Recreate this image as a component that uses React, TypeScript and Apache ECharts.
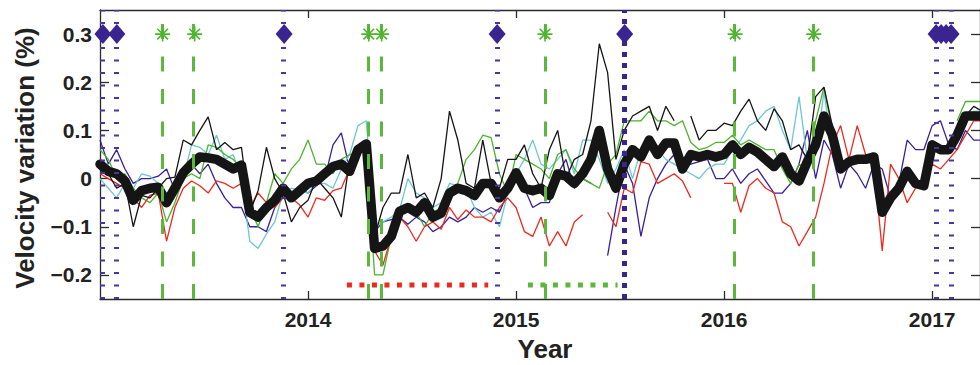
import React, { useEffect, useRef } from 'react';
import * as echarts from 'echarts';

// ---- data (velocity variation in %, sampled every 0.04 yr from 2013.00) ----
const SAMPLE_START = 2013.0;
const SAMPLE_STEP = 0.04;

const meanVelocity = [
  0.03, 0.015, 0.01, -0.005, -0.045, -0.025, -0.02, -0.018, -0.05, -0.02,
  0.012, 0.03, 0.045, 0.043, 0.04, 0.03, 0.02, 0.028, -0.07, -0.08,
  -0.06, -0.045, -0.02, -0.04, -0.025, -0.01, -0.005, 0.01, 0.025, 0.03,
  0.015, 0.06, 0.072, -0.145, -0.14, -0.12, -0.068, -0.06, -0.07, -0.05,
  -0.08, -0.072, -0.03, -0.02, -0.025, -0.035, -0.01, -0.01, -0.04, -0.02,
  0.012, -0.02, -0.025, -0.02, -0.035, 0.01, 0.005, -0.01, 0.01, 0.04,
  0.1, 0.02, -0.02, 0.03, 0.06, 0.045, 0.08, 0.05, 0.074, 0.074,
  0.02, 0.05, 0.045, 0.05, 0.045, 0.05, 0.07, 0.05, 0.065, 0.055,
  0.04, 0.025, 0.045, 0.01, -0.005, 0.035, 0.07, 0.13, 0.09, 0.02,
  0.035, 0.04, 0.04, 0.045, -0.07, -0.04, -0.02, 0.015, -0.01, -0.015,
  0.07, 0.06, 0.06, 0.09, 0.13, 0.13, 0.13,
];

const stationBlack = [
  0.03, 0.01, -0.02, -0.01, -0.1, -0.035, -0.04, -0.02, 0.0, 0.003,
  0.08, 0.07, 0.1, 0.128, 0.06, 0.075, 0.06, 0.065, -0.07, -0.025,
  0.065, 0.0, -0.03, -0.09, -0.06, -0.045, 0.0, -0.02, -0.04, -0.08,
  0.038, 0.06, 0.065, -0.12, -0.06, -0.03, -0.03, 0.05, -0.04, -0.03,
  -0.06, 0.0, 0.14, 0.08, -0.01, -0.02, 0.08, -0.01, -0.02, 0.04,
  0.04, 0.07, 0.01, -0.02, 0.06, 0.1, 0.0, 0.04, 0.05, 0.12,
  0.28, 0.22, 0.04, 0.1, 0.13, 0.14, 0.15, 0.1, 0.15, 0.12,
  null, 0.13, 0.08, 0.1, 0.1, 0.115, 0.11, 0.14, 0.165, 0.12,
  0.1, 0.145, 0.12, 0.06, 0.07, 0.04, 0.17, 0.19, 0.11, null,
  null, null, null, null, null, null, null, null, null, null,
  null, null, null, null, 0.13, 0.15, 0.14,
];

const stationRed = [
  0.01, 0.0, -0.01, -0.02, -0.04, -0.06, -0.035, -0.03, -0.13, -0.06,
  -0.02, -0.005, -0.015, -0.03, -0.005, -0.01, -0.02, -0.01, -0.06, -0.03,
  -0.05, -0.06, -0.04, -0.04, -0.055, -0.08, -0.04, -0.045, -0.025, -0.02,
  0.02, 0.045, 0.07, -0.15, -0.18, -0.12, -0.08, -0.1, -0.13, -0.1,
  -0.09, -0.105, -0.06, -0.085, -0.065, -0.08, -0.08, -0.09, -0.06, -0.04,
  -0.06, -0.11, -0.12, -0.08, -0.14, -0.11, -0.14, -0.09, -0.075, null,
  null, -0.07, -0.1, -0.02, -0.03, 0.035, 0.03, -0.01, 0.0, 0.01,
  -0.005, -0.04, null, null, null, -0.01, -0.01, -0.07, -0.015, 0.0,
  -0.02, -0.03, -0.09, -0.1, -0.14, -0.11, -0.08, -0.01, 0.07, 0.11,
  0.04, 0.11, 0.05, 0.03, -0.15, 0.03, 0.0, -0.05, -0.02, 0.0,
  0.03, 0.02, 0.04, 0.06, 0.09, 0.12, 0.12,
];

const stationBlue = [
  0.08, 0.03, 0.06, 0.02, -0.01, 0.0, 0.0, 0.005, 0.02, -0.025,
  0.0, 0.03, 0.01, 0.03, -0.01, -0.04, -0.06, -0.06, -0.1, -0.1,
  -0.11, -0.06, -0.02, -0.03, -0.02, -0.03, -0.015, 0.0, 0.07, 0.095,
  0.02, 0.06, 0.075, -0.11, -0.09, -0.085, -0.08, -0.095, -0.08, -0.09,
  -0.11, -0.1, -0.08, -0.09, -0.08, -0.06, -0.07, -0.06, -0.07, -0.03,
  0.02, -0.02, -0.06, -0.05, -0.05, 0.01, 0.04, -0.02, 0.0, -0.01,
  null, -0.16, -0.06, 0.03, -0.01, -0.12, -0.04, 0.0, 0.03, 0.05,
  0.03, 0.03, 0.035, 0.04, 0.0, 0.0, 0.02, -0.01, 0.01, 0.02,
  -0.005, -0.03, -0.03, -0.01, 0.03, 0.1, 0.0, 0.08, 0.05, -0.02,
  0.03, 0.01, -0.02, 0.03, 0.02, -0.04, -0.01, 0.08, 0.06, 0.06,
  0.11, 0.12, 0.07, 0.06, 0.1, 0.08, 0.08,
];

const stationCyan = [
  0.0, -0.02, -0.04, -0.01, -0.02, 0.01, 0.005, -0.01, -0.03, -0.02,
  0.0, 0.07, 0.065, 0.05, 0.09, 0.04, 0.05, 0.0, -0.13, -0.145,
  -0.115, -0.09, -0.03, -0.02, -0.025, -0.03, -0.01, -0.01, -0.02, 0.02,
  0.05, 0.11, 0.12, -0.1, -0.09, -0.08, -0.065, 0.0, -0.03, -0.04,
  -0.06, -0.05, -0.01, -0.015, -0.02, -0.06, -0.08, -0.07, -0.1, -0.03,
  0.01, 0.04, 0.08, 0.03, 0.02, 0.04, 0.06, 0.01, 0.08, 0.08,
  0.04, -0.01, 0.02, 0.06, 0.0, 0.06, 0.085, 0.06, 0.04, 0.03,
  0.02, 0.01, 0.0, 0.02, 0.03, 0.03, 0.06, 0.08, 0.11, 0.12,
  0.14, 0.15, 0.1, 0.06, 0.17, 0.04, 0.05, 0.18, 0.06, null,
  null, null, null, null, null, null, null, null, null, null,
  null, null, null, 0.11, 0.13, 0.14, 0.14,
];

const stationGreen = [
  0.06, 0.04, 0.0, 0.01, -0.02, -0.04, -0.05, -0.03, -0.09, -0.05,
  0.0, 0.01, 0.0, 0.07, 0.065, 0.05, 0.04, 0.02, -0.06, -0.1,
  -0.05, 0.01, -0.01, 0.02, 0.04, 0.08, 0.03, 0.03, 0.01, 0.04,
  0.05, 0.05, 0.06, -0.2, -0.2, -0.12, -0.07, -0.06, -0.07, -0.1,
  -0.07, -0.06, -0.035, -0.01, 0.04, 0.06, 0.09, 0.085, 0.01, -0.03,
  0.05, 0.04, 0.03, 0.02, 0.0, 0.05, 0.06, 0.02, 0.0, -0.01,
  -0.02, 0.03, 0.05, 0.12, 0.12, 0.12, 0.14, 0.12, 0.12, 0.11,
  0.12, 0.075, 0.06, 0.065, 0.075, 0.075, 0.09, 0.07, 0.08, 0.07,
  0.06, 0.06, 0.02, -0.01, 0.03, 0.02, 0.12, 0.19, 0.1, null,
  null, null, null, null, null, null, null, null, null, null,
  null, null, null, 0.12, 0.16, 0.16, 0.16,
];

// ---- events ----
const quakeYears = [2013.012, 2013.078, 2013.885, 2014.909, 2017.021, 2017.093];
const majorQuakeYear = [2015.524];
const diamondYears = [2013.014, 2013.081, 2013.885, 2014.909, 2015.522, 2017.019, 2017.043, 2017.067, 2017.091];
const eruptionYears = [2013.301, 2013.455, 2014.292, 2014.354, 2015.139, 2016.053, 2016.431];
const markerLevel = 0.3;
const redPeriod = [2014.187, 2014.866];
const greenPeriod = [2015.057, 2015.488];
const periodLevel = -0.221;

// ---- axes ----
const xTicks = [2014, 2015, 2016, 2017];
const yTicks = [-0.2, -0.1, 0, 0.1, 0.2, 0.3];
const X_MIN = 2013.0;
const X_MAX = 2017.23;
const Y_MIN = -0.25;
const Y_MAX = 0.35;

const FONT = '"Liberation Sans", Arial, Helvetica, sans-serif';
const AXIS_COLOR = '#2b2b2b';
const ASTERISK = 'path://M7,0L7,14M0,7L14,7M2,2L12,12M2,12L12,2';

function toSeries(values: (number | null)[]) {
  return values.map((v, i) => [+(SAMPLE_START + i * SAMPLE_STEP).toFixed(2), v === null ? '-' : v]);
}

function thinLine(name: string, values: (number | null)[], color: string) {
  return {
    name,
    type: 'line',
    data: toSeries(values),
    showSymbol: false,
    symbol: 'none',
    connectNulls: false,
    lineStyle: { color, width: 1.3 },
    z: 2,
    silent: true,
  };
}

export default function App() {
  const ref = useRef<HTMLDivElement>(null);

  useEffect(() => {
    if (!ref.current) return;
    const chart = echarts.init(ref.current, null, { renderer: 'svg' });

    const axisCommon = {
      type: 'value',
      splitLine: { show: false },
      axisLine: { show: true, onZero: false, lineStyle: { color: AXIS_COLOR, width: 1.3 } },
    };

    const option: any = {
      animation: false,
      backgroundColor: '#ffffff',
      grid: { left: 100, top: 10, width: 884, height: 289, containLabel: false },
      xAxis: [
        {
          ...axisCommon,
          min: X_MIN,
          max: X_MAX,
          position: 'bottom',
          axisTick: { show: true, inside: true, length: 8, customValues: xTicks, lineStyle: { color: AXIS_COLOR, width: 1.3 } },
          axisLabel: {
            customValues: xTicks,
            margin: 10,
            fontSize: 21,
            fontWeight: 'bold',
            fontFamily: FONT,
            color: '#222',
            formatter: (v: number) => String(v),
          },
        },
        {
          ...axisCommon,
          min: X_MIN,
          max: X_MAX,
          position: 'top',
          axisTick: { show: true, inside: true, length: 8, customValues: xTicks, lineStyle: { color: AXIS_COLOR, width: 1.3 } },
          axisLabel: { show: false },
        },
      ],
      yAxis: [
        {
          ...axisCommon,
          min: Y_MIN,
          max: Y_MAX,
          position: 'left',
          axisTick: { show: true, inside: true, length: 9, customValues: yTicks, lineStyle: { color: AXIS_COLOR, width: 1.3 } },
          axisLabel: {
            customValues: yTicks,
            margin: 8,
            fontSize: 21,
            fontWeight: 'bold',
            fontFamily: FONT,
            color: '#222',
            formatter: (v: number) => {
              const r = Math.round(v * 10) / 10;
              if (r === 0) return '0';
              return r < 0 ? '\u2212' + Math.abs(r).toFixed(1) : r.toFixed(1);
            },
          },
        },
        {
          ...axisCommon,
          min: Y_MIN,
          max: Y_MAX,
          position: 'right',
          axisTick: { show: true, inside: true, length: 9, customValues: yTicks, lineStyle: { color: AXIS_COLOR, width: 1.3 } },
          axisLabel: { show: false },
        },
      ],
      graphic: [
        {
          type: 'text',
          x: 25,
          y: 158,
          rotation: Math.PI / 2,
          style: {
            text: 'Velocity variation (%)',
            font: `bold 26px ${FONT}`,
            fill: '#222',
            align: 'center',
            verticalAlign: 'middle',
          },
        },
        {
          type: 'text',
          x: 545,
          y: 349,
          style: {
            text: 'Year',
            font: `bold 26px ${FONT}`,
            fill: '#222',
            align: 'center',
            verticalAlign: 'middle',
          },
        },
      ],
      series: [
        thinLine('Station blue', stationBlue, '#3a1f9c'),
        thinLine('Station cyan', stationCyan, '#6cc8d0'),
        thinLine('Station green', stationGreen, '#4cb32c'),
        thinLine('Station red', stationRed, '#ec2a1e'),
        thinLine('Station black', stationBlack, '#151515'),
        {
          name: 'Mean',
          type: 'line',
          data: toSeries(meanVelocity),
          showSymbol: false,
          symbol: 'none',
          lineStyle: { color: '#151515', width: 9.5, join: 'round', cap: 'round' },
          z: 3,
          silent: true,
        },
        {
          name: 'Red period',
          type: 'line',
          data: redPeriod.map((x) => [x, periodLevel]),
          showSymbol: false,
          symbol: 'none',
          lineStyle: { color: '#ea2a1c', width: 5, type: [5, 7.5] },
          z: 4,
          silent: true,
        },
        {
          name: 'Green period',
          type: 'line',
          data: greenPeriod.map((x) => [x, periodLevel]),
          showSymbol: false,
          symbol: 'none',
          lineStyle: { color: '#5cb83a', width: 5, type: [5, 7.5] },
          z: 4,
          silent: true,
        },
        {
          name: 'Eruptions',
          type: 'scatter',
          data: eruptionYears.map((x) => [x, markerLevel]),
          symbol: ASTERISK,
          symbolSize: 15,
          itemStyle: { color: 'rgba(0,0,0,0)', borderColor: '#4fb52e', borderWidth: 1.6, opacity: 1 },
          z: 5,
          silent: true,
          markLine: {
            silent: true,
            symbol: ['none', 'none'],
            label: { show: false },
            lineStyle: { color: '#5cb83a', width: 3, type: [15, 17.5], opacity: 1 },
            data: eruptionYears.map((x) => ({ xAxis: x })),
          },
        },
        {
          name: 'Major quake',
          type: 'line',
          data: [],
          z: 5,
          silent: true,
          markLine: {
            silent: true,
            symbol: ['none', 'none'],
            label: { show: false },
            lineStyle: { color: '#3a2590', width: 5, type: [5, 6], opacity: 1 },
            data: majorQuakeYear.map((x) => ({ xAxis: x })),
          },
        },
        {
          name: 'Quakes',
          type: 'scatter',
          data: diamondYears.map((x) => [x, markerLevel]),
          symbol: 'diamond',
          symbolSize: [17, 20],
          clip: false,
          itemStyle: { color: '#3a2590', opacity: 1 },
          z: 6,
          silent: true,
          markLine: {
            silent: true,
            symbol: ['none', 'none'],
            label: { show: false },
            lineStyle: { color: '#4636a0', width: 5, type: [2, 10.5], opacity: 1 },
            data: quakeYears.map((x) => ({ xAxis: x })),
          },
        },
      ],
    };

    chart.setOption(option);
    return () => chart.dispose();
  }, []);

  return (
    <div
      ref={ref}
      style={{ position: 'fixed', left: 0, top: 0, width: 980, height: 365, background: '#fff' }}
    />
  );
}
